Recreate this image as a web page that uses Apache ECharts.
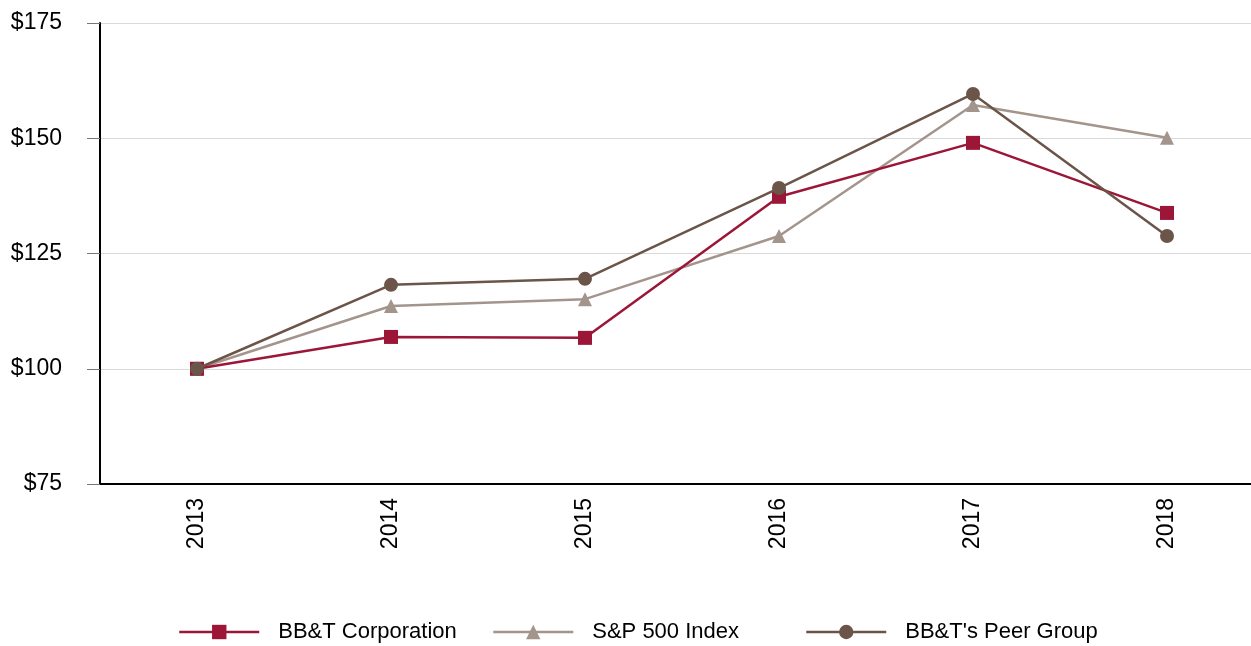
<!DOCTYPE html>
<html><head><meta charset="utf-8">
<script src="https://cdn.jsdelivr.net/npm/echarts@6/dist/echarts.min.js"></script>
<style>html,body{margin:0;padding:0;background:#fff}#c{width:1251px;height:646px}</style>
</head><body><div id="c"></div>
<script>
const years = ['2013','2014','2015','2016','2017','2018'];
const bbt = [100, 106.9, 106.7, 137.3, 149.0, 133.8];
const sp500 = [100, 113.6, 115.1, 128.8, 157.2, 150.1];
const peer = [100, 118.2, 119.5, 139.2, 159.6, 128.8];
const yTicks = [75, 100, 125, 150, 175];
const seriesNames = ['BB&T Corporation', 'S&P 500 Index', "BB&T's Peer Group"];

const FONT = '"Liberation Sans Narrow", "Liberation Sans", Arial, sans-serif';
const C = ['#9c1638', '#a3958c', '#6b5548'];
const legendLeft = [178, 492, 805];
const chart = echarts.init(document.getElementById('c'));
chart.setOption({
  animation: false,
  textStyle: {fontFamily: FONT},
  grid: {left: 100, width: 1164, top: 23, height: 461, containLabel: false, outerBoundsMode: 'none'},
  legend: seriesNames.map((n, i) => ({
    data: [n], left: legendLeft[i], top: 621, padding: 0, itemWidth: 80, itemHeight: 18, itemGap: 0,
    lineStyle: {width: 2.5},
    textStyle: {fontFamily: FONT, fontSize: 22, color: '#000', padding: [0, 0, 0, 14]}
  })),
  xAxis: {
    type: 'category', data: years, boundaryGap: true,
    axisLine: {lineStyle: {color: '#000', width: 2}},
    axisTick: {alignWithLabel: true, length: 8, lineStyle: {color: '#777'}},
    axisLabel: {rotate: 90, fontSize: 23, color: '#000', margin: 14}
  },
  yAxis: {
    type: 'value', min: yTicks[0], max: yTicks[yTicks.length-1], interval: 25,
    axisLine: {show: true, lineStyle: {color: '#000', width: 2}},
    axisTick: {show: true, length: 13, lineStyle: {color: '#777'}},
    splitLine: {lineStyle: {color: '#d9d9d9'}},
    axisLabel: {fontSize: 23, color: '#000', margin: 38, formatter: v => '$' + v}
  },
  series: [
    {name: seriesNames[0], type: 'line', data: bbt, symbol: 'rect', symbolSize: 14,
     itemStyle: {color: C[0]}, lineStyle: {width: 2.5, color: C[0]}, z: 3},
    {name: seriesNames[1], type: 'line', data: sp500, symbol: 'triangle', symbolSize: 14,
     itemStyle: {color: C[1]}, lineStyle: {width: 2.5, color: C[1]}, z: 2},
    {name: seriesNames[2], type: 'line', data: peer, symbol: 'circle', symbolSize: 14,
     itemStyle: {color: C[2]}, lineStyle: {width: 2.5, color: C[2]}, z: 4}
  ]
});
</script></body></html>
